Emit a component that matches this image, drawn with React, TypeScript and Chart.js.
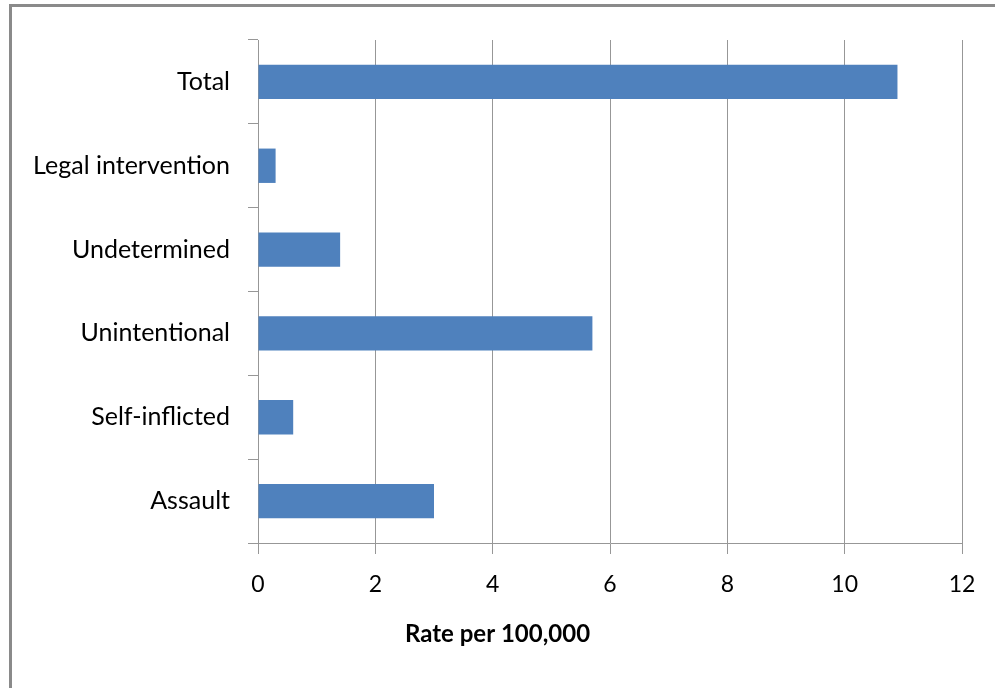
import React, { useEffect, useRef } from "react";
import { Chart, registerables } from "chart.js";

Chart.register(...registerables);

const categories = [
  "Total",
  "Legal intervention",
  "Undetermined",
  "Unintentional",
  "Self-inflicted",
  "Assault",
];
const rates = [10.9, 0.3, 1.4, 5.7, 0.6, 3.0];
const xMin = 0;
const xMax = 12;
const xStep = 2;
const axisTitle = "Rate per 100,000";

const W = 995;
const H = 688;
const GRID = "#979797";
const FONT = "Lato, 'Open Sans', sans-serif";

// Axis caption centred under the whole figure
const captionPlugin = {
  id: "caption",
  afterDraw(chart: any) {
    const ctx = chart.ctx;
    ctx.save();
    ctx.font = `bold 24px ${FONT}`;
    ctx.fillStyle = "#000";
    ctx.textAlign = "center";
    ctx.textBaseline = "middle";
    ctx.fillText(axisTitle, chart.width / 2, 634);
    ctx.restore();
  },
};

export default function App() {
  const ref = useRef<HTMLCanvasElement>(null);

  useEffect(() => {
    if (!ref.current) return;
    const chart = new Chart(ref.current, {
      type: "bar",
      data: {
        labels: categories,
        datasets: [
          {
            data: rates,
            backgroundColor: "#4F81BD",
            borderWidth: 0,
            barPercentage: 0.41,
            categoryPercentage: 1,
          },
        ],
      },
      options: {
        indexAxis: "y",
        responsive: false,
        animation: false,
        layout: { padding: { left: 0, top: 40, right: 33, bottom: 0 } },
        plugins: {
          legend: { display: false },
          tooltip: { enabled: false },
          title: { display: false },
        },
        scales: {
          y: {
            afterFit: (s: any) => {
              s.width = 258;
            },
            grid: {
              drawOnChartArea: false,
              drawTicks: true,
              tickLength: 10,
              color: GRID,
              offset: true,
            },
            border: { display: true, color: GRID, width: 1 },
            ticks: {
              color: "#000",
              font: { family: FONT, size: 25 },
              padding: 18,
            },
          },
          x: {
            min: xMin,
            max: xMax,
            afterFit: (s: any) => {
              s.height = H - 543;
            },
            grid: {
              color: GRID,
              lineWidth: 1,
              tickLength: 11,
            },
            border: { display: true, color: GRID, width: 1 },
            ticks: {
              stepSize: xStep,
              color: "#000",
              font: { family: FONT, size: 23 },
              padding: 17,
            },
          },
        },
      },
      plugins: [captionPlugin],
    });
    return () => chart.destroy();
  }, []);

  return (
    <div
      style={{
        position: "absolute",
        left: 0,
        top: 0,
        width: W,
        height: H,
        overflow: "hidden",
        background: "#fff",
      }}
    >
      <div
        style={{
          position: "absolute",
          left: 9,
          top: 4,
          width: W + 20,
          height: H + 20,
          borderLeft: "3px solid #8a8a8a",
          borderTop: "3px solid #8a8a8a",
          boxSizing: "border-box",
        }}
      />
      <canvas
        ref={ref}
        width={W}
        height={H}
        style={{ position: "absolute", left: 0, top: 0, width: W, height: H }}
      />
    </div>
  );
}
